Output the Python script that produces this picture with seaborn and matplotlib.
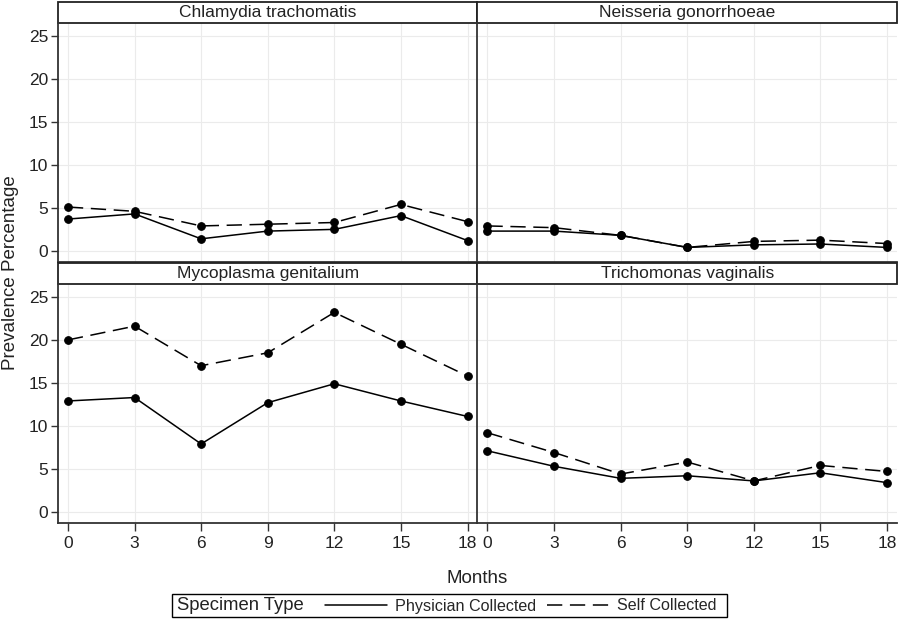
import pandas as pd
import matplotlib.pyplot as plt
import matplotlib.lines as mlines
import matplotlib.patches as mpatches
import seaborn as sns

sns.set_theme(style="whitegrid")
plt.rcParams['font.family'] = ['Liberation Sans', 'DejaVu Sans']

months = [0, 3, 6, 9, 12, 15, 18]
organisms = ["Chlamydia trachomatis", "Neisseria gonorrhoeae",
             "Mycoplasma genitalium", "Trichomonas vaginalis"]
specimen_types = ["Physician Collected", "Self Collected"]

ct_physician = [3.7, 4.3, 1.4, 2.3, 2.5, 4.1, 1.2]
ct_self = [5.1, 4.6, 2.9, 3.1, 3.3, 5.4, 3.4]
ng_physician = [2.3, 2.3, 1.8, 0.4, 0.7, 0.8, 0.4]
ng_self = [2.9, 2.7, 1.8, 0.4, 1.1, 1.25, 0.85]
mg_physician = [12.9, 13.3, 7.9, 12.7, 14.9, 12.9, 11.1]
mg_self = [20.0, 21.6, 17.0, 18.5, 23.2, 19.5, 15.8]
tv_physician = [7.1, 5.3, 3.9, 4.2, 3.6, 4.55, 3.4]
tv_self = [9.2, 6.9, 4.4, 5.8, 3.6, 5.4, 4.7]

series = {
    organisms[0]: (ct_physician, ct_self),
    organisms[1]: (ng_physician, ng_self),
    organisms[2]: (mg_physician, mg_self),
    organisms[3]: (tv_physician, tv_self),
}

rows = []
for org in organisms:
    for stype, vals in zip(specimen_types, series[org]):
        for m, v in zip(months, vals):
            rows.append({"Organism": org, "Specimen Type": stype,
                         "Months": m, "Prevalence": v})
df = pd.DataFrame(rows)

dash = (10, 5)
g = sns.relplot(data=df, x="Months", y="Prevalence", col="Organism",
                col_order=organisms, col_wrap=2, kind="line",
                style="Specimen Type", style_order=specimen_types,
                markers=["o", "o"], dashes=["", dash], color="black",
                legend=False, markersize=5.5, linewidth=1.1, mec="black",
                height=3, aspect=1.5,
                facet_kws=dict(sharex=True, sharey=True))

fig = g.figure
fig.set_size_inches(9, 6.19)
fig.subplots_adjust(left=0.0644, right=0.9967, top=0.9628, bottom=0.155,
                    hspace=0.092, wspace=0)
g.set_titles("")
g.set_axis_labels("", "")

for i, ax in enumerate(g.axes.flat):
    ax.set_xlim(-0.45, 18.45)
    ax.set_ylim(-1.3, 26.5)
    ax.set_xticks(months)
    ax.set_yticks([0, 5, 10, 15, 20, 25])
    ax.grid(True, color="#ebebeb", linewidth=0.8)
    for sp in ax.spines.values():
        sp.set_color("#333333")
        sp.set_linewidth(1.3)
    left_col = i % 2 == 0
    bottom_row = i >= 2
    ax.tick_params(axis="y", left=left_col, labelleft=left_col, length=5,
                   width=1, color="#333333", labelsize=12.5, pad=2,
                   labelcolor="#222222")
    ax.tick_params(axis="x", bottom=bottom_row, labelbottom=bottom_row,
                   length=6, width=1, color="#333333", labelsize=12.5, pad=3,
                   labelcolor="#222222")
    # strip header
    ax.add_patch(mpatches.Rectangle((0, 1), 1, 0.088, transform=ax.transAxes,
                                    clip_on=False, facecolor="white",
                                    edgecolor="#222222", linewidth=1.3))
    ax.text(0.5, 1.044, organisms[i], transform=ax.transAxes,
            ha="center", va="center", fontsize=12.5, color="#222222")

fig.text(0.012, 0.559, "Prevalence Percentage", rotation=90,
         ha="center", va="center", fontsize=13.5, color="#222222")
fig.text(0.53, 0.066, "Months", ha="center", va="center",
         fontsize=13.5, color="#222222")

# legend box: "Specimen Type" label, then the two line styles
legend_y = 1 - 606 / 619
fig.add_artist(mpatches.Rectangle((172 / 900, 1 - 617 / 619),
                                  555 / 900, 23 / 619,
                                  transform=fig.transFigure, facecolor="white",
                                  edgecolor="black", linewidth=1))
fig.text(177 / 900, legend_y, "Specimen Type", ha="left", va="center",
         fontsize=13.3, color="#222222")
handles = [
    mlines.Line2D([], [], color="black", linewidth=1.1, label="Physician Collected"),
    mlines.Line2D([], [], color="black", linewidth=1.1, dashes=dash,
                  label="Self Collected"),
]
fig.legend(handles=handles, ncol=2, loc="center left",
           bbox_to_anchor=(325 / 900, legend_y), frameon=False,
           fontsize=11.6, handlelength=3.85, handletextpad=0.5,
           columnspacing=0.68, borderpad=0, borderaxespad=0)

fig.savefig("out.png", dpi=100)
